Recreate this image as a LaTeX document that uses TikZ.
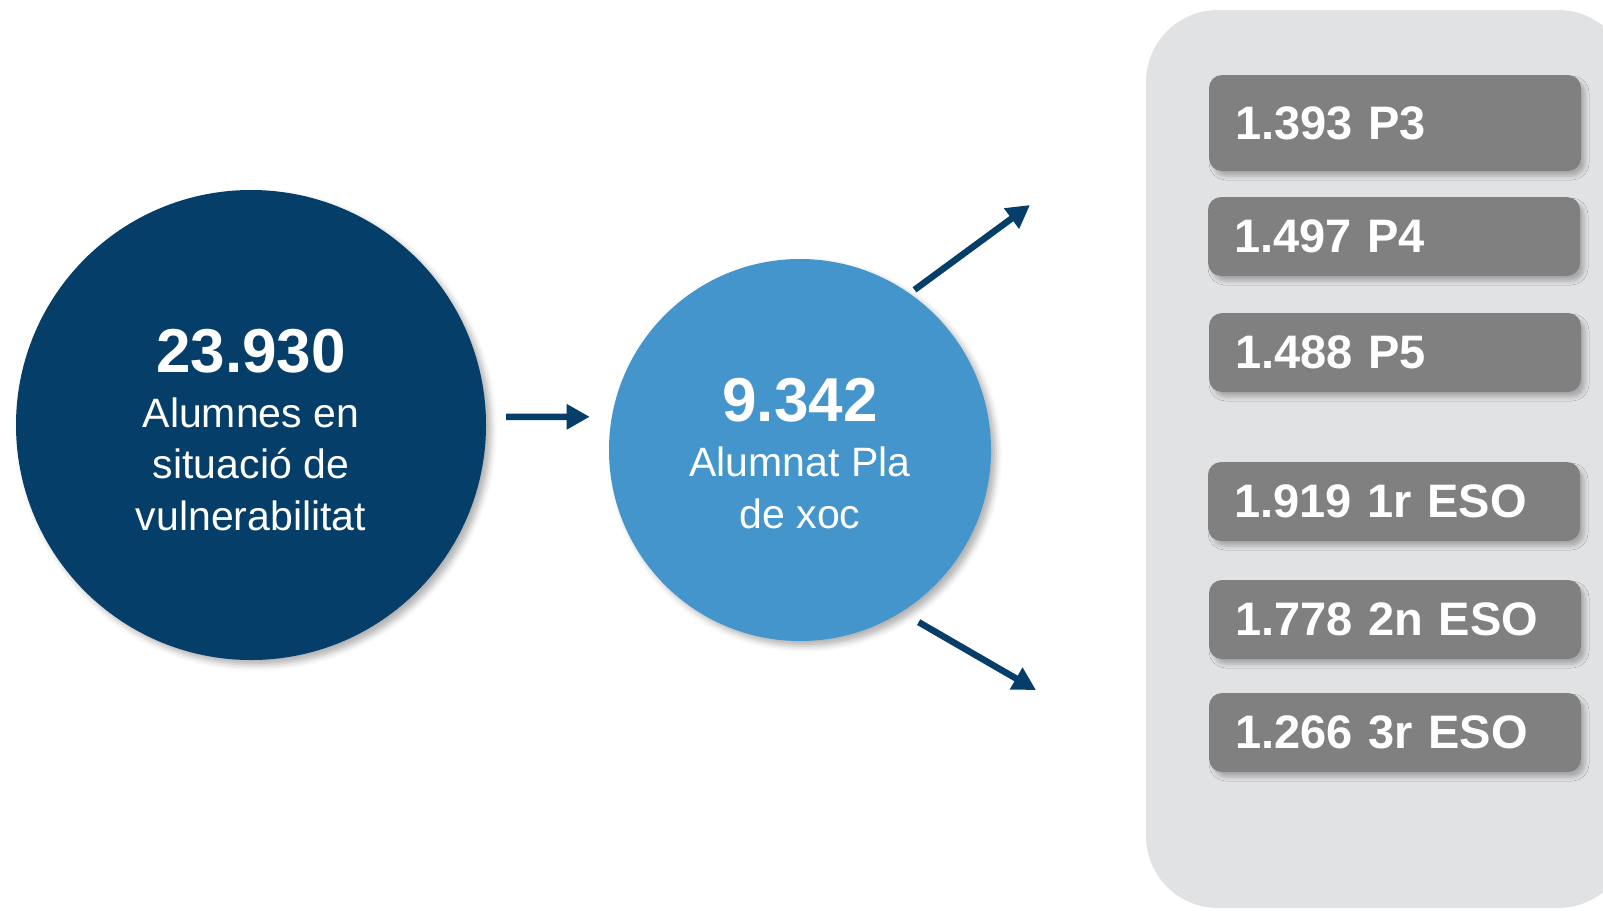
\documentclass[tikz,border=0pt]{standalone}
\usepackage{fontspec}
\setmainfont{Liberation Sans}
\usepackage{tikz}
\usetikzlibrary{arrows.meta}
\usetikzlibrary{shadows.blur}
\definecolor[named]{PXNavy}{RGB}{4,62,105}
\definecolor[named]{PXBlue}{RGB}{68,149,203}
\definecolor[named]{PXGrey}{RGB}{128,128,128}
\definecolor[named]{panelbg}{RGB}{225,226,228}
\newcommand{\numfont}{\fontsize{62}{62}\selectfont\bfseries}
\newcommand{\lblfont}{\fontsize{41}{51.5}\selectfont}
\newcommand{\coursefont}{\fontsize{47}{56}\selectfont\bfseries}
\tikzset{
  bubble/.style={circle,inner sep=0pt,
    blur shadow={shadow xshift=5pt,shadow yshift=-5pt,shadow blur radius=6pt,shadow opacity=30}},
  bubbletext/.style={text=white,align=center,font=\lblfont,inner sep=0pt},
  course/.style={fill=PXGrey,rounded corners=13pt,text=white,font=\coursefont,
    minimum height=79pt,text width=320pt,inner xsep=26pt,inner ysep=0pt,align=left,
    blur shadow={shadow xshift=4pt,shadow yshift=-5pt,shadow blur radius=4pt,shadow opacity=25}},
  flow/.style={PXNavy,line width=6.5pt,-{Triangle[length=23pt,width=24pt]}}
}

\begin{document}
\begin{tikzpicture}[x=1pt,y=-1pt]
  \useasboundingbox (0,0) rectangle (1603,910);
  \clip (0,0) rectangle (1603,910);
  \fill[panelbg,rounded corners=72pt] (1146,10) rectangle (1630,908);
  % circles
  \node[bubble,fill=PXNavy,minimum size=470pt] (vuln) at (251,425) {};
  \node[bubbletext] (vulntxt) at (251,430)
    {{\numfont 23.930}\\[3.5pt]Alumnes en\\situació de\\vulnerabilitat};
  \node[bubble,fill=PXBlue,minimum size=382pt] (pla) at (800,450) {};
  \node[bubbletext] (platxt) at (800,453.5)
    {{\numfont 9.342}\\[3.5pt]Alumnat Pla\\de xoc};
  % arrows
  \coordinate (upend) at (1030,205);
  \coordinate (downend) at (1036,690);
  \draw[flow,shorten <=20pt,shorten >=22pt] (vuln.2) -- (pla.170);
  \draw[flow,shorten <=6pt] (pla.55) -- (upend);
  \draw[flow,shorten <=20pt] (pla.-58) -- (downend);
  % courses
  \node[course,minimum height=96pt] (p3) at (1395,123) {1.393 P3};
  \node[course] (p4) at (1394,236.5) {1.497 P4};
  \node[course] (p5) at (1395,352.5) {1.488 P5};
  \node[course] (eso1) at (1394,501.5) {1.919 1r ESO};
  \node[course] (eso2) at (1395,619.5) {1.778 2n ESO};
  \node[course] (eso3) at (1395,732.5) {1.266 3r ESO};
\end{tikzpicture}
\end{document}
